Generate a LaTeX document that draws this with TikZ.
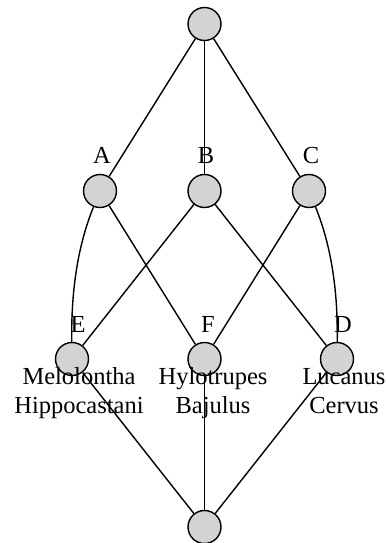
\documentclass[tikz,border=0pt]{standalone}
\usepackage{fontspec}
\setmainfont{Liberation Serif}
\begin{document}
\begin{tikzpicture}[x=1pt,y=-1pt,
  vtx/.style={circle,draw=black,fill={rgb,255:red,211;green,211;blue,211},line width=1.4pt,minimum size=33pt,inner sep=0pt},
  lbl/.style={font=\fontsize{24.5}{29}\selectfont,inner sep=0pt,anchor=base},
  edge/.style={line width=1.4pt,black}]
\useasboundingbox (0,0) rectangle (387,543);
\node[vtx] (T) at (204.5,24) {};
\node[vtx] (A) at (100,191) {};
\node[vtx] (B) at (204.5,191) {};
\node[vtx] (C) at (309,191) {};
\node[vtx] (E) at (72,359) {};
\node[vtx] (F) at (204.5,359) {};
\node[vtx] (D) at (337,359) {};
\node[vtx] (Z) at (204.5,527) {};
\draw[edge] (T) -- (A);
\draw[edge] (T) -- (B);
\draw[edge] (T) -- (C);
\draw[edge] (A) .. controls (78,245) and (71,290) .. (E);
\draw[edge] (C) .. controls (331,245) and (338,290) .. (D);
\draw[edge] (A) -- (F);
\draw[edge] (B) -- (E);
\draw[edge] (B) -- (D);
\draw[edge] (C) -- (F);
\draw[edge] (E) -- (Z);
\draw[edge] (F) -- (Z);
\draw[edge] (D) -- (Z);
\node[lbl] (la) at (102,163) {A};
\node[lbl] (lb) at (206,163) {B};
\node[lbl] (lc) at (311,163) {C};
\node[lbl] (le) at (78,332) {E};
\node[lbl] (lf) at (208,332) {F};
\node[lbl] (ld) at (343,332) {D};
\node[lbl,align=center] (ne) at (79,413) {Melolontha\\Hippocastani};
\node[lbl,align=center] (nf) at (213,413) {Hylotrupes\\Bajulus};
\node[lbl,align=center] (nd) at (344,413) {Lucanus\\Cervus};
\end{tikzpicture}
\end{document}
